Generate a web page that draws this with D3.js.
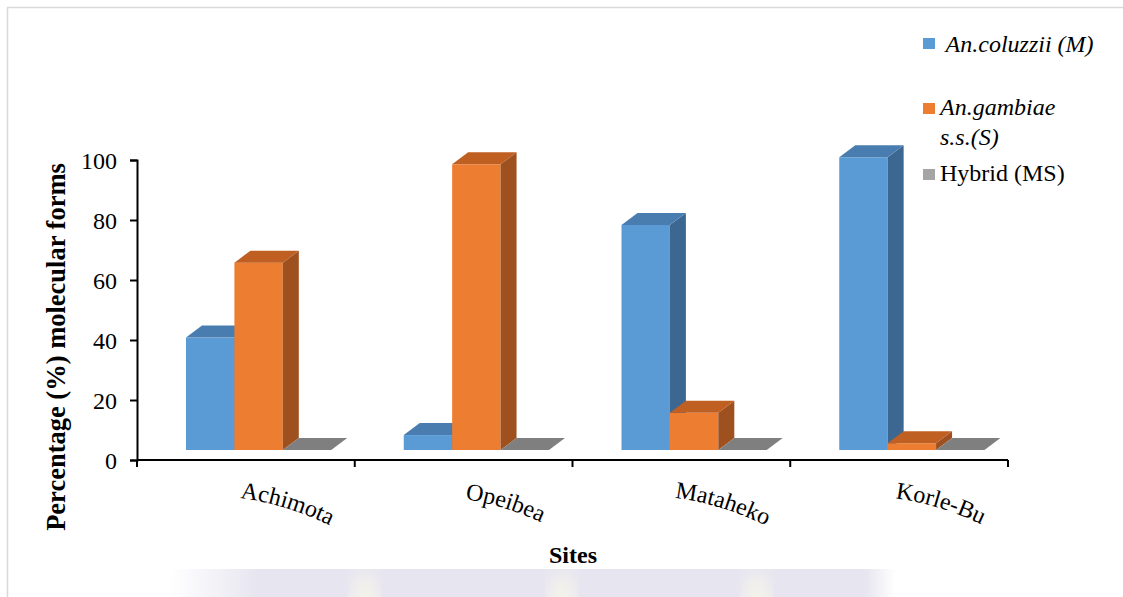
<!DOCTYPE html>
<html>
<head>
<meta charset="utf-8">
<script src="https://cdn.jsdelivr.net/npm/d3@7"></script>
<style>
  html, body { margin: 0; padding: 0; background: #fff; }
  svg { display: block; }
  svg text { font-family: "Times New Roman", "Liberation Serif", Times, serif; }
</style>
</head>
<body>
<svg id="chart" width="1123" height="597"></svg>
<script>
// Sampling sites and molecular-form percentages
const sites = ["Achimota", "Opeibea", "Mataheko", "Korle-Bu"];
const seriesNames = ["An.coluzzii (M)", "An.gambiae s.s.(S)", "Hybrid (MS)"];
const coluzzii = [38.4, 5.1, 76.9, 100];
const gambiae = [64, 97.6, 12.7, 2.3];
const hybrid = [0, 0, 0, 0];
const yTicks = [0, 20, 40, 60, 80, 100];

// Face colours for each series: front, top, side
const palette = [
  { front: "#5B9BD5", top: "#4A7DAF", side: "#3C6790", legend: "#5B9BD5" },
  { front: "#ED7D31", top: "#BF5F22", side: "#9E501E", legend: "#ED7D31" },
  { front: "#8C8C8C", top: "#808080", side: "#6E6E6E", legend: "#A5A5A5" }
];

const svg = d3.select("#chart");
const W = 1123, H = 597;

// Panel frame
svg.append("line").attr("x1", 7).attr("x2", W).attr("y1", 7.5).attr("y2", 7.5)
  .attr("stroke", "#d9d9d9").attr("stroke-width", 1.5);
svg.append("line").attr("x1", 7.5).attr("x2", 7.5).attr("y1", 7).attr("y2", H)
  .attr("stroke", "#d9d9d9").attr("stroke-width", 1.5);

// Faint banner along the bottom edge
const defs = svg.append("defs");
const bandGrad = defs.append("linearGradient").attr("id", "bandGrad")
  .attr("x1", "0").attr("x2", "1").attr("y1", "0").attr("y2", "0");
[[0, 0], [0.12, 1], [0.96, 1], [1, 0]].forEach(([o, a]) =>
  bandGrad.append("stop").attr("offset", o).attr("stop-color", "#e7e6f0").attr("stop-opacity", a));
defs.append("filter").attr("id", "soft").append("feGaussianBlur").attr("stdDeviation", 7);
svg.append("rect").attr("x", 170).attr("y", 569).attr("width", 725).attr("height", 28)
  .attr("fill", "url(#bandGrad)");
[365, 562, 757].forEach(cx => {
  svg.append("ellipse").attr("cx", cx).attr("cy", 600).attr("rx", 14).attr("ry", 26)
    .attr("fill", "#f7f4ea").attr("opacity", 0.8).attr("filter", "url(#soft)");
});

// Scales
const plotLeft = 137, plotRight = 1008, axisY = 460, barBase = 450;
const x = d3.scaleBand().domain(sites).range([plotLeft, plotRight]);
const y = d3.scaleLinear().domain([0, 100]).range([axisY, 160]);
// Bar heights follow the 3D floor, which sits a little above the axis line
const yBar = d3.scaleLinear().domain([0, 100]).range([barBase, 157.3]);
const depth = { dx: 16, dy: -12 };
const barW = 48.4;
const inner = d3.scaleBand().domain(d3.range(3)).range([49, 49 + 3 * barW]);

// Bars
const series = [coluzzii, gambiae, hybrid];
const barsG = svg.append("g");
sites.forEach((site, si) => {
  series.forEach((vals, k) => {
    const v = vals[si];
    const x0 = x(site) + inner(k);
    const x1 = x0 + barW;
    const yt = yBar(v);
    const c = palette[k];
    const g = barsG.append("g");
    if (v > 0) {
      g.append("rect").attr("x", x0).attr("y", yt).attr("width", barW).attr("height", barBase - yt)
        .attr("fill", c.front);
      g.append("path")
        .attr("d", `M${x1},${yt}L${x1 + depth.dx},${yt + depth.dy}L${x1 + depth.dx},${barBase + depth.dy}L${x1},${barBase}Z`)
        .attr("fill", c.side);
      g.append("path")
        .attr("d", `M${x0},${yt}L${x0 + depth.dx},${yt + depth.dy}L${x1 + depth.dx},${yt + depth.dy}L${x1},${yt}Z`)
        .attr("fill", c.top);
    } else {
      g.append("path")
        .attr("d", `M${x0},${yt}L${x0 + depth.dx},${yt + depth.dy}L${x1 + depth.dx},${yt + depth.dy}L${x1},${yt}Z`)
        .attr("fill", "#7F7F7F");
    }
  });
});

// Y axis
const yAxis = d3.axisLeft(y).tickValues(yTicks).tickSize(7).tickPadding(13);
const yG = svg.append("g").attr("transform", `translate(${plotLeft},0)`).call(yAxis)
  .attr("font-family", null).attr("font-size", 24);
yG.select(".domain").attr("stroke", "#000").attr("stroke-width", 2);
yG.selectAll(".tick line").attr("stroke", "#000").attr("stroke-width", 2);
yG.selectAll(".tick text").attr("fill", "#000").attr("dy", "0.34em");

// X axis line with boundary ticks
const boundaries = sites.map(s => x(s)).concat([plotRight]);
svg.append("line").attr("x1", plotLeft).attr("x2", plotRight).attr("y1", axisY).attr("y2", axisY)
  .attr("stroke", "#000").attr("stroke-width", 2);
svg.selectAll(".xtick").data(boundaries).enter().append("line")
  .attr("x1", d => d).attr("x2", d => d).attr("y1", axisY).attr("y2", axisY + 7)
  .attr("stroke", "#000").attr("stroke-width", 2);

// Category labels set along a gentle downward arc
sites.forEach((site, i) => {
  const cx = x(site) + x.bandwidth() / 2 + 42;
  const id = "arc" + i;
  defs.append("path").attr("id", id)
    .attr("d", `M${cx - 62},${497} Q${cx - 5},${500} ${cx + 55},${532}`);
  svg.append("text").attr("font-size", 24).attr("fill", "#000")
    .append("textPath").attr("href", "#" + id).attr("startOffset", "50%")
    .attr("text-anchor", "middle").text(site);
});

// Axis titles
svg.append("text").attr("x", 573).attr("y", 563).attr("text-anchor", "middle")
  .attr("font-size", 24).attr("font-weight", "bold").text("Sites");
svg.append("text").attr("transform", "translate(65,347) rotate(-90)").attr("text-anchor", "middle")
  .attr("font-size", 26.5).attr("font-weight", "bold").text("Percentage (%) molecular forms");

// Legend
const legend = [
  { sq: 38, lines: [" An.coluzzii (M)"], base: 52, italic: true },
  { sq: 103, lines: ["An.gambiae", "s.s.(S)"], base: 115, italic: true },
  { sq: 169, lines: ["Hybrid (MS)"], base: 181, italic: false }
];
legend.forEach((d, k) => {
  svg.append("rect").attr("x", 923).attr("y", d.sq).attr("width", 12).attr("height", 11)
    .attr("fill", palette[k].legend);
  const t = svg.append("text").attr("x", 940).attr("y", d.base).attr("font-size", 24)
    .attr("font-style", d.italic ? "italic" : "normal").attr("xml:space", "preserve");
  d.lines.forEach((ln, j) => {
    t.append("tspan").attr("x", 940).attr("dy", j === 0 ? 0 : 30).text(ln);
  });
});
</script>
</body>
</html>
